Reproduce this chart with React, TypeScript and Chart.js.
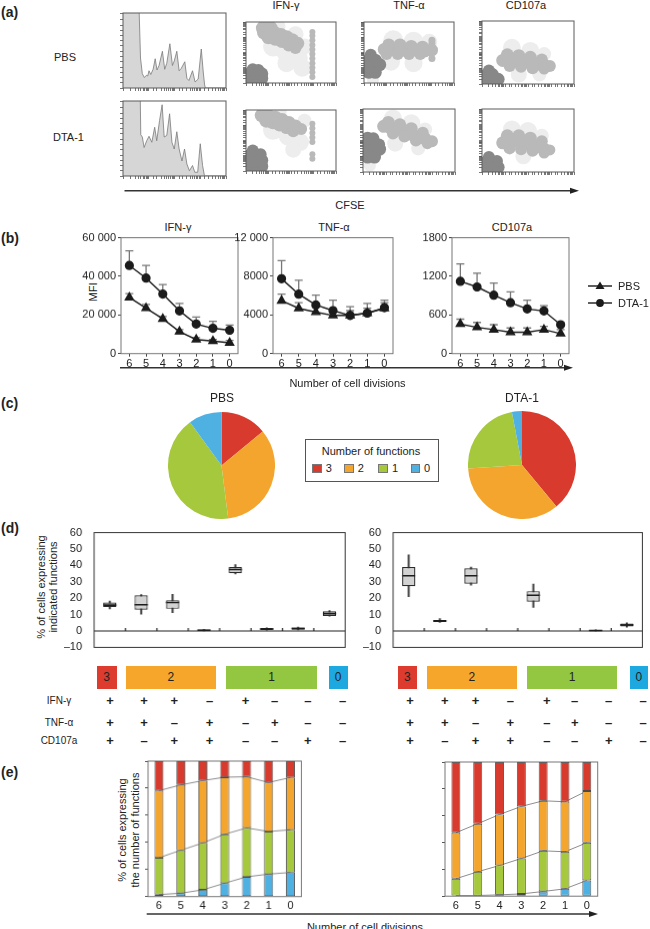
import React, { useEffect, useRef } from "react";
import { Chart, registerables } from "chart.js";

Chart.register(...registerables);

const FONT = "'Liberation Sans', Arial, Helvetica, sans-serif";
Chart.defaults.font.family = FONT;
Chart.defaults.font.size = 11;
Chart.defaults.color = "#222";

// ---------- (a) CFSE profiles (x, y in log decades 0-4; histogram y in % of panel height)
const histPBS = [[0, 130], [0.5, 130], [0.62, 110], [0.68, 40], [0.75, 19], [0.83, 14], [0.91, 17], [0.96, 16], [1.01, 23], [1.08, 18], [1.17, 25], [1.25, 39], [1.32, 24], [1.4, 30], [1.53, 49], [1.62, 25], [1.7, 33], [1.82, 59], [1.92, 30], [1.99, 36], [2.09, 49], [2.18, 23], [2.26, 26], [2.4, 35], [2.48, 13], [2.56, 10], [2.7, 23], [2.8, 8], [2.92, 12], [3.04, 52], [3.12, 20], [3.17, 4], [3.2, 0], [4, 0]];
const histDTA = [[0, 130], [0.66, 130], [0.69, 55], [0.75, 52], [0.82, 38], [0.92, 47], [1.01, 53], [1.12, 45], [1.23, 65], [1.31, 47], [1.42, 74], [1.52, 95], [1.6, 52], [1.7, 54], [1.81, 83], [1.9, 45], [1.99, 36], [2.09, 59], [2.18, 36], [2.29, 20], [2.39, 36], [2.48, 16], [2.58, 7], [2.7, 14], [2.79, 5], [2.9, 5], [3.0, 43], [3.09, 14], [3.16, 1], [3.19, 0], [4, 0]];

// dot clouds: [x, y, radius px] for the dense, banded and sparse parts of each plot
const ifnPbsDense = [[0.2, 0.3, 6.5], [0.45, 0.3, 6.5], [0.7, 0.3, 6.5], [0.2, 0.65, 6.5], [0.45, 0.65, 6.5], [0.7, 0.6, 6.5], [0.3, 0.9, 6], [0.55, 0.85, 6]];
const ifnPbsBand = [[0.75, 3.6, 7], [1.1, 3.6, 7], [0.8, 3.3, 7], [1.05, 3.35, 7], [1.3, 3.25, 7], [1.55, 3.15, 7], [1.8, 3.0, 7], [2.05, 2.8, 7], [2.3, 2.6, 6.5], [1.0, 3.0, 7], [1.3, 2.9, 7], [1.6, 2.75, 7], [1.9, 2.5, 6.5], [2.2, 2.3, 6],
  [2.95, 0.4, 3], [2.95, 0.7, 3], [2.95, 1.0, 3], [2.95, 1.3, 3], [2.95, 1.6, 3], [2.95, 1.9, 3], [2.95, 2.2, 3], [2.95, 2.5, 3], [2.95, 2.8, 3], [2.95, 3.1, 3], [2.95, 3.35, 3]];
const ifnPbsSparse = [[1.2, 2.4, 10], [1.8, 2.0, 10], [2.3, 1.6, 10], [2.5, 1.0, 9], [1.8, 1.3, 9], [2.6, 2.4, 8], [1.4, 3.7, 8], [2.2, 3.2, 8]];
const tnfPbsDense = [[0.2, 0.7, 6.5], [0.5, 0.7, 6.5], [0.2, 1.1, 6.5], [0.5, 1.1, 6.5], [0.7, 1.2, 6.5], [0.2, 1.5, 6.5], [0.5, 1.5, 6.5], [0.3, 1.85, 6]];
const tnfPbsBand = [[0.9, 2.2, 6.5], [1.2, 2.25, 6.5], [1.5, 2.2, 6.5], [1.8, 2.15, 6.5], [2.1, 2.15, 6.5], [2.4, 2.1, 6.5], [2.7, 2.1, 6.5], [3.0, 2.15, 6.5], [1.1, 2.5, 6.5], [1.6, 2.5, 6.5], [2.1, 2.4, 6.5], [2.6, 2.35, 6.5], [1.0, 1.9, 6], [1.5, 1.9, 6], [2.0, 1.9, 6], [2.5, 1.9, 6],
  [3.02, 1.6, 3.5], [3.02, 2.6, 3.5], [3.02, 2.8, 3.5]];
const tnfPbsSparse = [[1.3, 2.8, 10], [2.2, 2.7, 10], [2.9, 2.7, 8], [1.2, 1.4, 9], [2.2, 1.3, 9], [0.4, 0.2, 6]];
const cdPbsDense = [[0.2, 0.25, 6.5], [0.45, 0.25, 6.5], [0.7, 0.3, 6.5], [0.2, 0.6, 6.5], [0.45, 0.6, 6.5], [0.3, 0.85, 6]];
const cdPbsBand = [[0.9, 1.5, 6.5], [1.2, 1.5, 6.5], [1.5, 1.45, 6.5], [1.8, 1.4, 6.5], [2.1, 1.35, 6.5], [2.4, 1.25, 6.5], [2.7, 1.2, 6.5], [2.95, 1.15, 6], [1.1, 1.85, 6.5], [1.6, 1.8, 6.5], [2.1, 1.7, 6.5], [2.6, 1.55, 6], [1.2, 1.15, 6], [1.7, 1.1, 6], [2.2, 1.0, 6], [2.7, 0.95, 5.5]];
const cdPbsSparse = [[1.3, 2.3, 9], [2.1, 2.1, 9], [2.7, 1.9, 7], [1.6, 0.6, 8], [2.5, 0.6, 7]];
const ifnDtaDense = [[0.2, 0.25, 6.5], [0.45, 0.25, 6.5], [0.7, 0.3, 6.5], [0.2, 0.65, 6.5], [0.45, 0.65, 6.5], [0.7, 0.7, 6.5], [0.2, 1.05, 6.5], [0.45, 1.05, 6.5], [0.65, 1.1, 6], [0.3, 1.35, 6]];
const ifnDtaBand = [[0.7, 3.65, 7], [1.0, 3.6, 7], [1.3, 3.5, 7], [1.6, 3.35, 7], [1.9, 3.15, 7], [2.2, 2.95, 6.5], [2.45, 2.75, 6], [0.9, 3.3, 7], [1.2, 3.2, 7], [1.5, 3.05, 7], [1.8, 2.85, 6.5], [2.1, 2.6, 6],
  [2.95, 1.9, 3], [2.95, 2.2, 3], [2.95, 2.5, 3], [2.95, 2.8, 3], [2.95, 3.1, 3], [2.95, 0.8, 3], [2.95, 1.1, 3]];
const ifnDtaSparse = [[1.2, 2.7, 10], [1.9, 2.3, 10], [2.4, 1.9, 9], [2.1, 1.4, 8], [1.5, 3.9, 7], [2.6, 3.3, 7]];
const tnfDtaDense = [[0.2, 0.95, 6.5], [0.5, 0.95, 6.5], [0.2, 1.35, 6.5], [0.5, 1.35, 6.5], [0.72, 1.45, 6.5], [0.2, 1.75, 6.5], [0.5, 1.75, 6.5], [0.7, 1.75, 6], [0.2, 2.15, 6.5], [0.45, 2.15, 6]];
const tnfDtaBand = [[0.9, 2.9, 6.5], [1.2, 2.8, 6.5], [1.5, 2.7, 6.5], [1.8, 2.55, 6.5], [2.1, 2.4, 6.5], [2.4, 2.25, 6.5], [2.7, 2.1, 6.5], [3.0, 1.95, 6], [1.1, 3.15, 6.5], [1.6, 3.0, 6.5], [2.1, 2.75, 6.5], [2.6, 2.5, 6], [1.3, 2.45, 6], [1.8, 2.25, 6], [2.3, 2.0, 6], [2.8, 1.8, 5.5]];
const tnfDtaSparse = [[1.3, 3.4, 9], [2.1, 3.1, 9], [2.7, 2.7, 7], [1.4, 1.8, 8], [2.4, 1.5, 7], [0.3, 0.4, 6]];
const cdDtaDense = [[0.2, 0.25, 6.5], [0.45, 0.25, 6.5], [0.7, 0.3, 6.5], [0.2, 0.65, 6.5], [0.45, 0.65, 6.5], [0.65, 0.7, 6], [0.3, 0.95, 6]];
const cdDtaBand = [[0.9, 1.85, 6.5], [1.2, 1.95, 6.5], [1.5, 1.95, 6.5], [1.8, 1.85, 6.5], [2.1, 1.75, 6.5], [2.4, 1.6, 6.5], [2.7, 1.5, 6], [2.95, 1.4, 5.5], [1.1, 2.3, 6.5], [1.6, 2.3, 6.5], [2.1, 2.15, 6.5], [2.6, 1.95, 6], [1.2, 1.5, 6], [1.7, 1.45, 6], [2.2, 1.35, 6], [2.7, 1.2, 5.5]];
const cdDtaSparse = [[1.3, 2.7, 9], [2.0, 2.6, 9], [2.6, 2.3, 7], [1.8, 1.0, 8]];

// ---------- (b) MFI by number of divisions (value and top of error bar)
const divisions = ["6", "5", "4", "3", "2", "1", "0"];
const ifnPBS = [29100, 23500, 18000, 11400, 7300, 6500, 5600];
const ifnPBSTop = [31100, 25500, 19200, 12400, 8200, 7300, 6800];
const ifnDTA = [45600, 39100, 30800, 22100, 15300, 13100, 12100];
const ifnDTATop = [53200, 45600, 35700, 26000, 18900, 16700, 14800];
const tnfPBS = [5480, 4690, 4290, 3950, 3950, 4190, 4690];
const tnfPBSTop = [6160, 5270, 4860, 4450, 4450, 4690, 5270];
const tnfDTA = [7750, 6150, 5030, 4450, 3950, 4190, 4760];
const tnfDTATop = [9630, 7590, 6050, 5540, 4860, 5200, 5540];
const cdPBS = [459, 408, 372, 331, 331, 372, 311];
const cdPBSTop = [535, 484, 449, 398, 398, 423, 372];
const cdDTA = [1122, 1035, 907, 790, 694, 663, 449];
const cdDTATop = [1392, 1249, 1096, 959, 831, 745, 484];

// ---------- (c) share of cells by number of functions
const fnLabels = ["3", "2", "1", "0"];
const piePBS = [14, 34, 42, 10];
const pieDTA = [39, 35, 23, 3];

// ---------- (d) box plots [min, q1, median, q3, max] per function combination
const combos = ["+++", "++-", "+-+", "-++", "+--", "-+-", "--+", "---"];
const boxPBS = [[13.5, 14.7, 15.8, 17.4, 18.3], [10.3, 13, 16, 21.8, 22.2], [11.2, 13.5, 17.4, 18.8, 22.4], [0, 0.1, 0.5, 0.9, 1], [34.8, 35.2, 37.5, 39, 40.5], [0.5, 0.6, 1.2, 1.9, 2], [0.6, 0.8, 1.5, 2.2, 2.4], [9, 9.2, 10.6, 12, 12.4]];
const boxDTA = [[21, 27.3, 33.7, 39, 46.4], [5.3, 5.5, 6.2, 6.7, 7.5], [28, 28.8, 33.7, 38.2, 39], null, [14.4, 17.8, 21.8, 24.3, 28.6], null, [0, 0.1, 0.3, 0.6, 0.7], [2.3, 2.7, 3.7, 4.6, 5]];
const ifnSigns = ["+", "+", "+", "–", "+", "–", "–", "–"];
const tnfSigns = ["+", "+", "–", "+", "–", "+", "–", "–"];
const cdSigns = ["+", "–", "+", "+", "–", "–", "+", "–"];

// ---------- (e) % of cells with 0 / 1 / 2 / 3 functions per division
const pbsNone = [1.5, 2.5, 5, 9.9, 14.6, 16.6, 17.8];
const pbsOne = [27.2, 31.7, 34.6, 36.1, 36.1, 31.4, 31.5];
const pbsTwo = [49.5, 48.2, 46, 42.1, 37.7, 36.2, 38.6];
const pbsThree = [21.8, 17.6, 14.4, 11.9, 11.6, 15.8, 12.1];
const dtaNone = [0.5, 0.5, 1, 1.7, 3.5, 5.5, 11.7];
const dtaOne = [12.5, 17.7, 21.9, 26.4, 30.3, 27.6, 28.1];
const dtaTwo = [34.3, 35.8, 38, 38.8, 37.3, 37.3, 38.6];
const dtaThree = [52.7, 46, 39.1, 33.1, 28.9, 29.6, 21.6];

const RED = "#d83a2d";
const ORANGE = "#f4a52d";
const GREEN = "#a5c83c";
const BLUE = "#4fb0e2";

type Rect = [number, number, number, number];
type Margin = [number, number, number, number]; // left, top, right, bottom

const fix = (size: number) => (s: any) => {
  if (s.isHorizontal()) s.height = size;
  else s.width = size;
};

const base = (m: Margin, bottom = 0) => ({
  animation: false as const,
  responsive: true,
  maintainAspectRatio: false,
  events: [],
  layout: { padding: { left: 0, top: m[1], right: m[2], bottom } },
  plugins: { legend: { display: false }, tooltip: { enabled: false } },
});

const frame = (color: string, width = 1) => ({
  id: "frame",
  afterDatasetsDraw(chart: any) {
    const { ctx, chartArea: a } = chart;
    ctx.save();
    ctx.strokeStyle = color;
    ctx.lineWidth = width;
    ctx.strokeRect(a.left, a.top, a.right - a.left, a.bottom - a.top);
    ctx.restore();
  },
});

const errorBars = {
  id: "errorBars",
  beforeDatasetsDraw(chart: any) {
    const { ctx } = chart;
    const y = chart.scales.y;
    ctx.save();
    ctx.strokeStyle = "#777";
    ctx.lineWidth = 1.3;
    chart.data.datasets.forEach((ds: any, i: number) => {
      chart.getDatasetMeta(i).data.forEach((pt: any, j: number) => {
        const top = y.getPixelForValue(ds.top[j]);
        ctx.beginPath();
        ctx.moveTo(pt.x, pt.y);
        ctx.lineTo(pt.x, top);
        ctx.moveTo(pt.x - 4, top);
        ctx.lineTo(pt.x + 4, top);
        ctx.stroke();
      });
    });
    ctx.restore();
  },
};

const zeroLine = {
  id: "zeroLine",
  afterDatasetsDraw(chart: any) {
    const { ctx, chartArea: a } = chart;
    const { x, y } = chart.scales;
    const y0 = y.getPixelForValue(0);
    ctx.save();
    ctx.strokeStyle = "#222";
    ctx.lineWidth = 1.2;
    ctx.beginPath();
    ctx.moveTo(a.left, y0);
    ctx.lineTo(a.right, y0);
    for (let i = 0; i < combos.length - 1; i++) {
      const xb = (x.getPixelForValue(i) + x.getPixelForValue(i + 1)) / 2;
      ctx.moveTo(xb, y0);
      ctx.lineTo(xb, y0 - 3);
    }
    ctx.stroke();
    ctx.restore();
  },
};

function Plot({ area, m, config }: { area: Rect; m: Margin; config: any }) {
  const ref = useRef<HTMLCanvasElement>(null);
  useEffect(() => {
    if (!ref.current) return;
    const chart = new Chart(ref.current, config);
    return () => chart.destroy();
  }, []);
  const [x, y, w, h] = area;
  const [l, t, r, b] = m;
  return (
    <div style={{ position: "absolute", left: x - l, top: y - t, width: w + l + r, height: h + t + b }}>
      <canvas ref={ref} />
    </div>
  );
}

// ---------- chart configs
const FLOW_M: Margin = [5, 1, 1, 5];

function flowConfig(datasets: any[], histogram: boolean) {
  const tickAxis = (position: string, size: number) => ({
    type: "logarithmic",
    position,
    min: 1,
    max: 10000,
    afterFit: fix(size),
    ticks: { display: false, autoSkip: false },
    grid: { drawOnChartArea: false, tickLength: 3, color: "#555", lineWidth: 0.8 },
    border: { display: false },
  });
  return {
    type: histogram ? "line" : "bubble",
    data: { datasets },
    options: {
      ...base(FLOW_M),
      scales: {
        x: { type: "linear", min: 0, max: 4, display: false },
        y: { type: "linear", min: 0, max: histogram ? 100 : 4, display: false },
        xl: tickAxis("bottom", FLOW_M[3]),
        yl: histogram
          ? { ...tickAxis("left", FLOW_M[0]), type: "linear", min: 0, max: 100, ticks: { display: false, stepSize: 7 } }
          : tickAxis("left", FLOW_M[0]),
      },
    },
    plugins: [frame("#5a5a5a")],
  };
}

const histConfig = (pts: number[][]) =>
  flowConfig(
    [{
      data: pts.map(([x, y]) => ({ x, y })),
      fill: "origin",
      backgroundColor: "#d6d6d6",
      borderColor: "#7a7a7a",
      borderWidth: 0.8,
      pointRadius: 0,
      tension: 0,
    }],
    true,
  );

// solid tones so overlapping bubbles merge into one cloud
const dotColors = ["#888888", "#b9b9b9", "#ededed"];
const dotConfig = (groups: number[][][]) =>
  flowConfig(
    groups.map((g, k) => ({
      data: g.map(([x, y, r]) => ({ x, y, r })),
      backgroundColor: dotColors[k],
      borderWidth: 0,
      clip: 0,
    })),
    false,
  );

const MFI_M: Margin = [50, 6, 3, 16];
const fmtMfi = (v: number) => (v >= 10000 ? String(v).replace(/\B(?=(\d{3})+(?!\d))/g, " ") : String(v));

const mfiConfig = (pbs: number[], pbsTop: number[], dta: number[], dtaTop: number[], max: number, step: number) => ({
  type: "line",
  data: {
    labels: divisions,
    datasets: [
      { label: "PBS", data: pbs, top: pbsTop, pointStyle: "triangle", pointRadius: 4.6, borderColor: "#1b1b1b", backgroundColor: "#1b1b1b", borderWidth: 1.4 },
      { label: "DTA-1", data: dta, top: dtaTop, pointStyle: "circle", pointRadius: 3.9, borderColor: "#1b1b1b", backgroundColor: "#1b1b1b", borderWidth: 1.4 },
    ],
  },
  options: {
    ...base(MFI_M),
    scales: {
      x: { offset: true, afterFit: fix(MFI_M[3]), ticks: { padding: 1 }, grid: { drawOnChartArea: false, tickLength: 3, color: "#444" }, border: { display: false } },
      y: { min: 0, max, afterFit: fix(MFI_M[0]), ticks: { stepSize: step, padding: 2, callback: fmtMfi }, grid: { drawOnChartArea: false, tickLength: 3, color: "#444" }, border: { display: false } },
    },
  },
  plugins: [errorBars, frame("#777")],
});

const pieConfig = (values: number[]) => ({
  type: "pie",
  data: { labels: fnLabels, datasets: [{ data: values, backgroundColor: [RED, ORANGE, GREEN, BLUE], borderWidth: 0 }] },
  options: { ...base([0, 0, 0, 0]) },
});

const BOX_M: Margin = [30, 4, 2, 0];
function boxConfig(stats: (number[] | null)[]) {
  const whisker = stats.map((s) => (s ? [s[0], s[4]] : null));
  const box = stats.map((s) => (s ? [s[1], s[3]] : null));
  const median = stats.map((s) => (s ? s[2] : null));
  return {
    type: "bar",
    data: {
      labels: combos,
      datasets: [
        { type: "line", data: median, showLine: false, pointStyle: "line", pointRadius: 6.6, pointBorderWidth: 1.6, pointBorderColor: "#1c1c1c", borderColor: "#1c1c1c" },
        {
          data: box,
          grouped: false,
          categoryPercentage: 1,
          barPercentage: 0.42,
          backgroundColor: (c: any) => {
            const v = box[c.dataIndex];
            return v && v[0] < 3 ? "#2b2b2b" : "#d2d2d2";
          },
          borderColor: "#2b2b2b",
          borderWidth: 1.2,
          borderSkipped: false,
        },
        { data: whisker, grouped: false, barThickness: 1.3, backgroundColor: "#3a3a3a" },
      ],
    },
    options: {
      ...base(BOX_M, BOX_M[3]),
      scales: {
        x: { display: false, offset: true },
        y: {
          min: -10,
          max: 60,
          afterFit: fix(BOX_M[0]),
          ticks: { stepSize: 10, padding: 4, callback: (v: number) => (v < 0 ? "–10" : String(v)) },
          grid: { display: false },
          border: { display: false },
        },
      },
    },
    plugins: [zeroLine, frame("#333")],
  };
}

const STACK_M: Margin = [5, 2, 2, 16];
function stackConfig(parts: number[][]) {
  const colors = [BLUE, GREEN, ORANGE, RED];
  let run = divisions.map(() => 0);
  const bounds: number[][] = [];
  parts.slice(0, 3).forEach((p) => {
    run = run.map((v, i) => v + p[i]);
    bounds.push(run);
  });
  return {
    type: "bar",
    data: {
      labels: divisions,
      datasets: [
        ...parts.map((p, k) => ({
          data: p, stack: "f", backgroundColor: colors[k], borderColor: "#4a4a4a", borderWidth: 0.9,
          borderSkipped: false, barPercentage: 0.41, categoryPercentage: 1, order: 0,
        })),
        ...bounds.map((b, k) => ({ type: "line", data: b, stack: "l" + k, borderColor: "#808080", borderWidth: 0.9, pointRadius: 0, order: 5 })),
      ],
    },
    options: {
      ...base(STACK_M),
      scales: {
        x: { stacked: true, afterFit: fix(STACK_M[3]), ticks: { padding: 3 }, grid: { display: false, drawTicks: false }, border: { display: false } },
        y: { stacked: true, min: 0, max: 100, afterFit: fix(STACK_M[0]), ticks: { display: false, stepSize: 20 }, grid: { drawOnChartArea: false, tickLength: 3, color: "#555" }, border: { display: false } },
      },
    },
    plugins: [frame("#777")],
  };
}

// ---------- text and decorations
function Label({ x, y, text, size = 11, bold = false, align = "center", rotate = false, lh = 1.15 }: any) {
  const tx = align === "center" ? "-50%" : align === "right" ? "-100%" : "0";
  return (
    <div
      style={{
        position: "absolute", left: x, top: y, whiteSpace: "nowrap", textAlign: "center",
        transform: `translate(${tx}, -50%)${rotate ? " rotate(-90deg)" : ""}`,
        fontSize: size, fontWeight: bold ? 700 : 400, lineHeight: lh,
      }}
    >
      {text}
    </div>
  );
}

function Arrow({ x1, x2, y }: { x1: number; x2: number; y: number }) {
  return (
    <g>
      <line x1={x1} y1={y} x2={x2 - 6} y2={y} stroke="#333" strokeWidth={1.5} />
      <polygon points={`${x2},${y} ${x2 - 9},${y - 3} ${x2 - 9},${y + 3}`} fill="#222" />
    </g>
  );
}

function ColorBar({ x1, x2, color, text }: { x1: number; x2: number; color: string; text: string }) {
  return (
    <div
      style={{
        position: "absolute", left: x1, top: 665.7, width: x2 - x1, height: 23.3, background: color,
        display: "flex", alignItems: "center", justifyContent: "center", fontSize: 12, color: "#222",
      }}
    >
      {text}
    </div>
  );
}

const flowCols = [122.5, 241, 359, 478];
const flowRows = [12.5, 100.5];
const flowTitles = [["IFN-γ", 286], ["TNF-α", 409], ["CD107a", 526]];

const pbsDots = [[ifnPbsDense, ifnPbsBand, ifnPbsSparse], [tnfPbsDense, tnfPbsBand, tnfPbsSparse], [cdPbsDense, cdPbsBand, cdPbsSparse]];
const dtaDots = [[ifnDtaDense, ifnDtaBand, ifnDtaSparse], [tnfDtaDense, tnfDtaBand, tnfDtaSparse], [cdDtaDense, cdDtaBand, cdDtaSparse]];

const signColsL = [110, 144, 174.3, 209.5, 245.6, 274.7, 307.9, 342.7];
const signColsR = [410, 444.8, 475.5, 510.4, 546.9, 574.7, 608.7, 643.2];
const signRows: [string, string[], number][] = [["IFN-γ", ifnSigns, 700.7], ["TNF-α", tnfSigns, 722.7], ["CD107a", cdSigns, 740.7]];

export default function App() {
  return (
    <div style={{ position: "absolute", left: 0, top: 0, width: 650, height: 929, background: "#fff", fontFamily: FONT, color: "#222", overflow: "hidden" }}>
      {/* (a) */}
      <Label x={1} y={11.5} text="(a)" bold size={14} align="left" />
      {flowTitles.map(([t, x]) => <Label key={t as string} x={x} y={4.5} text={t} />)}
      <Label x={65} y={57} text="PBS" />
      <Label x={68.5} y={137} text="DTA-1" />
      {flowRows.map((top, r) => (
        <React.Fragment key={r}>
          <Plot area={[flowCols[0], top, 103, 75]} m={FLOW_M} config={histConfig(r === 0 ? histPBS : histDTA)} />
          {(r === 0 ? pbsDots : dtaDots).map((g, c) => (
            <Plot key={c} area={[flowCols[c + 1], top, 104, 75]} m={FLOW_M} config={dotConfig(g)} />
          ))}
        </React.Fragment>
      ))}
      <Label x={350} y={205} text="CFSE" />

      {/* (b) */}
      <Label x={1} y={238} text="(b)" bold size={14} align="left" />
      <Label x={178} y={226.7} text="IFN-γ" />
      <Label x={334} y={226.7} text="TNF-α" />
      <Label x={512} y={226.7} text="CD107a" />
      <Label x={93.4} y={291.7} text="MFI" rotate />
      <Plot area={[121, 235, 120, 117.7]} m={MFI_M} config={mfiConfig(ifnPBS, ifnPBSTop, ifnDTA, ifnDTATop, 60000, 20000)} />
      <Plot area={[273, 235, 123, 117.7]} m={MFI_M} config={mfiConfig(tnfPBS, tnfPBSTop, tnfDTA, tnfDTATop, 12000, 4000)} />
      <Plot area={[452, 235, 120, 117.7]} m={MFI_M} config={mfiConfig(cdPBS, cdPBSTop, cdDTA, cdDTATop, 1800, 600)} />
      <Label x={618} y={286} text="PBS" align="left" />
      <Label x={618} y={303} text="DTA-1" align="left" />
      <Label x={347.5} y={382.7} text="Number of cell divisions" />

      {/* (c) */}
      <Label x={1} y={403} text="(c)" bold size={14} align="left" />
      <Label x={222} y={399} text="PBS" size={12} />
      <Label x={522} y={399} text="DTA-1" size={12} />
      <Plot area={[168, 411.5, 107, 107]} m={[0, 0, 0, 0]} config={pieConfig(piePBS)} />
      <Plot area={[468, 411, 108, 108]} m={[0, 0, 0, 0]} config={pieConfig(pieDTA)} />
      <div style={{ position: "absolute", left: 305, top: 439, width: 134, height: 43, border: "1px solid #555", boxSizing: "border-box" }} />
      <Label x={371} y={451} text="Number of functions" />
      {fnLabels.map((t, i) => (
        <React.Fragment key={t}>
          <div style={{ position: "absolute", left: [312, 344.4, 378.4, 410.8][i], top: 463.5, width: 9.5, height: 9.5, background: [RED, ORANGE, GREEN, BLUE][i], border: "0.5px solid #777", boxSizing: "border-box" }} />
          <Label x={[325.7, 357.7, 392, 424][i]} y={468.3} text={t} align="left" />
        </React.Fragment>
      ))}

      {/* (d) */}
      <Label x={1} y={528} text="(d)" bold size={14} align="left" />
      <Label x={47} y={587} text={<>% of cells expressing<br />indicated functions</>} rotate lh="11.5px" />
      <Plot area={[94.2, 525.7, 256.4, 132]} m={BOX_M} config={boxConfig(boxPBS)} />
      <Plot area={[393.4, 525.7, 254.6, 132]} m={BOX_M} config={boxConfig(boxDTA)} />
      <ColorBar x1={96.7} x2={116.6} color="#dc3b2e" text="3" />
      <ColorBar x1={125.7} x2={216.2} color="#f5a62b" text="2" />
      <ColorBar x1={226.1} x2={317} color="#93c741" text="1" />
      <ColorBar x1={328.6} x2={347.7} color="#1ea8e0" text="0" />
      <ColorBar x1={397.5} x2={417} color="#dc3b2e" text="3" />
      <ColorBar x1={426.6} x2={517} color="#f5a62b" text="2" />
      <ColorBar x1={527} x2={617.4} color="#93c741" text="1" />
      <ColorBar x1={629.5} x2={648} color="#1ea8e0" text="0" />
      {signRows.map(([name, signs, y]) => (
        <React.Fragment key={name}>
          <Label x={59} y={y} text={name} size={10} />
          {signs.map((s, i) => <Label key={"l" + i} x={signColsL[i]} y={y} text={s} size={13} bold />)}
          {signs.map((s, i) => <Label key={"r" + i} x={signColsR[i]} y={y} text={s} size={13} bold />)}
        </React.Fragment>
      ))}

      {/* (e) */}
      <Label x={1} y={771.7} text="(e)" bold size={14} align="left" />
      <Label x={128.5} y={830} text={<>% of cells expressing<br />the number of functions</>} rotate lh="13px" />
      <Plot area={[148.3, 761, 152.4, 134.7]} m={STACK_M} config={stackConfig([pbsNone, pbsOne, pbsTwo, pbsThree])} />
      <Plot area={[444.8, 761.5, 152.7, 134.2]} m={STACK_M} config={stackConfig([dtaNone, dtaOne, dtaTwo, dtaThree])} />
      <Label x={365} y={927} text="Number of cell divisions" />

      <svg width={650} height={929} style={{ position: "absolute", left: 0, top: 0, pointerEvents: "none" }}>
        <Arrow x1={124.5} x2={579} y={190.7} />
        <Arrow x1={120} x2={573} y={367.7} />
        <Arrow x1={146.7} x2={598} y={914} />
        <line x1={588} y1={286} x2={612} y2={286} stroke="#1b1b1b" strokeWidth={1.4} />
        <polygon points="600,281.5 595.5,289 604.5,289" fill="#1b1b1b" />
        <line x1={588} y1={303} x2={612} y2={303} stroke="#1b1b1b" strokeWidth={1.4} />
        <circle cx={600} cy={303} r={3.9} fill="#1b1b1b" />
      </svg>
    </div>
  );
}
